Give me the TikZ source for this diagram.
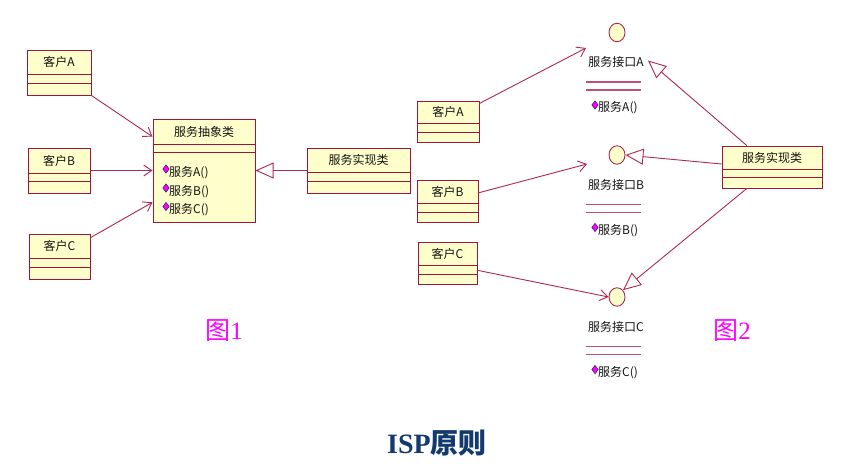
\documentclass[tikz,border=0pt]{standalone}
\usepackage{fontspec}
\setmainfont{Liberation Serif}
\newfontfamily\cjk{Noto Sans CJK SC}
\usetikzlibrary{arrows.meta,calc,shapes.geometric}
\definecolor{clsfill}{RGB}{255,255,204}
\definecolor{clsborder}{RGB}{160,20,60}
\definecolor{lncol}{RGB}{175,40,80}
\definecolor{iflncol}{RGB}{190,80,115}
\definecolor{titlecol}{RGB}{18,58,110}
\definecolor{dianavy}{RGB}{30,30,110}
\definecolor{pinkmag}{RGB}{255,0,255}
\tikzset{
  clsbox/.style={rectangle,draw=clsborder,fill=clsfill,line width=1pt,inner sep=0pt},
  clsline/.style={draw=clsborder,line width=1pt},
  clstext/.style={font=\cjk\fontsize{12}{14}\selectfont,text=black!92,inner sep=1pt},
  optext/.style={font=\cjk\fontsize{12}{14}\selectfont,text=black!92,inner sep=0pt,anchor=west},
  opdia/.style={diamond,fill=pinkmag,draw=dianavy,line width=0.5pt,minimum width=6.5pt,minimum height=8.5pt,inner sep=0pt},
  ifcircle/.style={ellipse,draw=lncol,fill=clsfill,line width=0.9pt,minimum width=16pt,minimum height=18.5pt,inner sep=0pt},
  ifline/.style={draw=iflncol,line width=1.1pt},
  assoc/.style={draw=lncol,line width=0.9pt,-{Straight Barb[length=8pt,width=11pt,line width=0.9pt]}},
  inherit/.style={draw=lncol,line width=0.9pt,-{Triangle[open,length=18pt,width=16pt,fill=white,line width=0.9pt]}},
  figlbl/.style={font=\fontsize{25}{28}\selectfont,text=pinkmag,inner sep=0pt},
  titletext/.style={font=\fontsize{28}{32}\selectfont\bfseries,text=titlecol,inner sep=0pt}
}
% name, x1, y1, x2, y2, line1, line2, text
\newcommand\umlbox[8]{%
  \node[clsbox,minimum width={#4-#2},minimum height={#5-#3}] (#1) at ({(#2+#4)/2},{(#3+#5)/2}) {};
  \draw[clsline] (#2,#6) -- (#4,#6);
  \draw[clsline] (#2,#7) -- (#4,#7);
  \node[clstext] (#1-name) at ({(#2+#4)/2},{(#3+#6)/2}) {#8};
}
% name, cx, cy, letter
\newcommand\umliface[4]{%
  \node[ifcircle] (#1) at (#2,#3) {};
  \node[clstext] (#1-name) at ({#2-1},{#3+29.5}) {服务接口#4};
  \draw[ifline] ({#2-31},{#3+49.5}) -- ({#2+24},{#3+49.5});
  \draw[ifline] ({#2-31},{#3+57.5}) -- ({#2+24},{#3+57.5});
  \node[opdia] (#1-dia) at ({#2-22},{#3+72.5}) {};
  \node[optext] (#1-op) at ({#2-19},{#3+75.5}) {服务#4()};
}
\begin{document}
\begin{tikzpicture}[x=1pt,y=-1pt]
\useasboundingbox[fill=white] (0,0) rectangle (844,466);

% ---------- Figure 1 ----------
\umlbox{cA}{27}{50}{91}{95}{74}{83}{客户A}
\umlbox{cB}{28}{148}{90}{193}{173}{181}{客户B}
\umlbox{cC}{29}{234}{90}{279}{258}{267}{客户C}
\umlbox{abs}{153}{119}{255}{222}{144}{152}{服务抽象类}
\node[opdia] (absdA) at (166,169) {};
\node[optext] (absopA) at (169,172.5) {服务A()};
\node[opdia] (absdB) at (166,188) {};
\node[optext] (absopB) at (169,191.5) {服务B()};
\node[opdia] (absdC) at (166,206.5) {};
\node[optext] (absopC) at (169,210) {服务C()};
\umlbox{lImpl}{307}{148}{410}{193}{172}{181}{服务实现类}

\draw[assoc] (cA.south east) -- ($(abs.north west)!0.175!(abs.south west)$);
\draw[assoc] (cB.east) -- (abs.west);
\draw[assoc] ($(cC.north east)!0.09!(cC.south east)$) -- ($(abs.north west)!0.806!(abs.south west)$);
\draw[inherit] (lImpl.west) -- (abs.east);

\node[figlbl] (fig1) at (224,331) {{\cjk 图}1};

% ---------- Figure 2 ----------
\umlbox{rA}{417}{101}{479}{142}{123}{132}{客户A}
\umlbox{rB}{417}{180}{478}{222}{203}{212}{客户B}
\umlbox{rC}{418}{242}{477}{284}{265}{274}{客户C}
\umliface{ifA}{617}{32.5}{A}
\umliface{ifB}{617}{155}{B}
\umliface{ifC}{617}{297}{C}
\umlbox{rImpl}{722}{146}{822}{188}{169}{177}{服务实现类}

\draw[assoc] ($(rA.north east)!0.07!(rA.south east)$) -- ([shift={(-31,15.5)}]ifA.center);
\draw[assoc] ($(rB.north east)!0.31!(rB.south east)$) -- ([shift={(-30,9)}]ifB.center);
\draw[assoc] ($(rC.north east)!0.67!(rC.south east)$) -- (ifC.west);

\draw[inherit] ($(rImpl.north west)!0.25!(rImpl.north east)$) -- ([shift={(31,28)}]ifA.center);
\draw[inherit] ($(rImpl.north west)!0.43!(rImpl.south west)$) -- (ifB.east);
\draw[inherit] ($(rImpl.south west)!0.25!(rImpl.south east)$) -- (ifC.north east);

\node[figlbl] (fig2) at (732,331) {{\cjk 图}2};

% ---------- Title ----------
\node[titletext] (title) at (437,443) {ISP{\cjk 原则}};
\end{tikzpicture}
\end{document}
